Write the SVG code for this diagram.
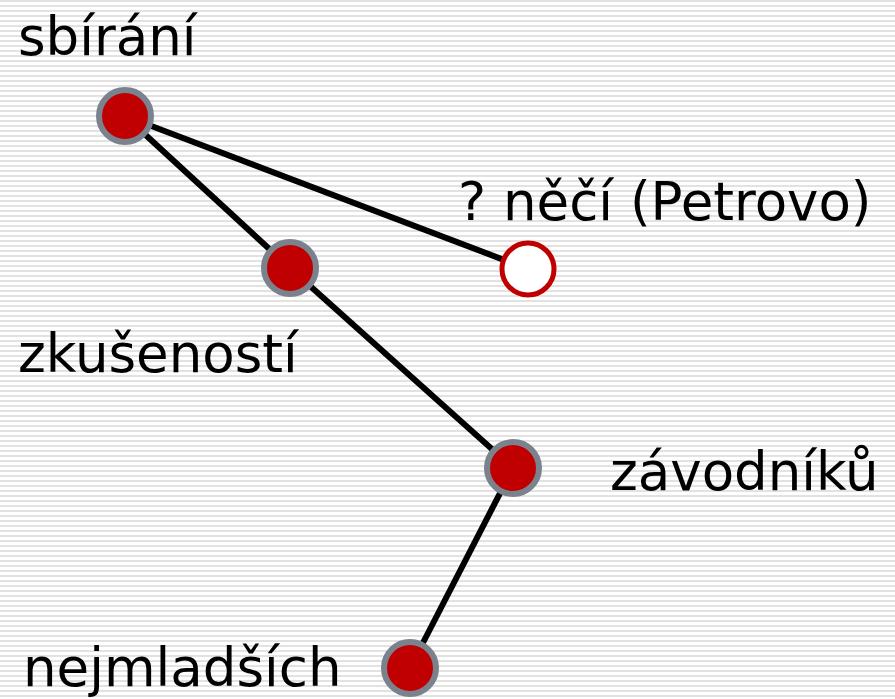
<svg xmlns="http://www.w3.org/2000/svg" width="895" height="699" viewBox="0 0 895 699">
<defs>
<pattern id="stripes" width="10" height="5" patternUnits="userSpaceOnUse">
<rect width="10" height="5" fill="#ffffff"/>
<rect y="0" width="10" height="2" fill="#e2e2e2"/>
</pattern>
</defs>
<style>
.lbl{font-family:"DejaVu Sans",sans-serif;font-size:53px;fill:#000}
.edge{stroke:#000;stroke-width:6;fill:none}
.full{fill:#c00000;stroke:#7a838d;stroke-width:6}
.open{fill:#fff;stroke:#c00000;stroke-width:5}
</style>
<rect width="895" height="699" fill="url(#stripes)"/>
<g id="connectors">
<line class="edge" x1="125" y1="116" x2="290" y2="268"/>
<line class="edge" x1="125" y1="116" x2="528" y2="269"/>
<line class="edge" x1="290" y1="268" x2="513" y2="468"/>
<line class="edge" x1="513" y1="468" x2="410" y2="668"/>
</g>
<g id="n-sbirani"><circle class="full" cx="125" cy="116" r="26"/><text class="lbl" x="18" y="55">sbírání</text></g>
<g id="n-zkusenosti"><circle class="full" cx="290" cy="268" r="26"/><text class="lbl" x="18" y="372">zkušeností</text></g>
<g id="n-necci"><circle class="open" cx="528" cy="269" r="26"/><text class="lbl" x="458" y="220">? něčí (Petrovo)</text></g>
<g id="n-zavodniku"><circle class="full" cx="513" cy="468" r="26"/><text class="lbl" x="610" y="490">závodníků</text></g>
<g id="n-nejmladsich"><circle class="full" cx="410" cy="668" r="26"/><text class="lbl" x="23" y="686">nejmladších</text></g>
</svg>
